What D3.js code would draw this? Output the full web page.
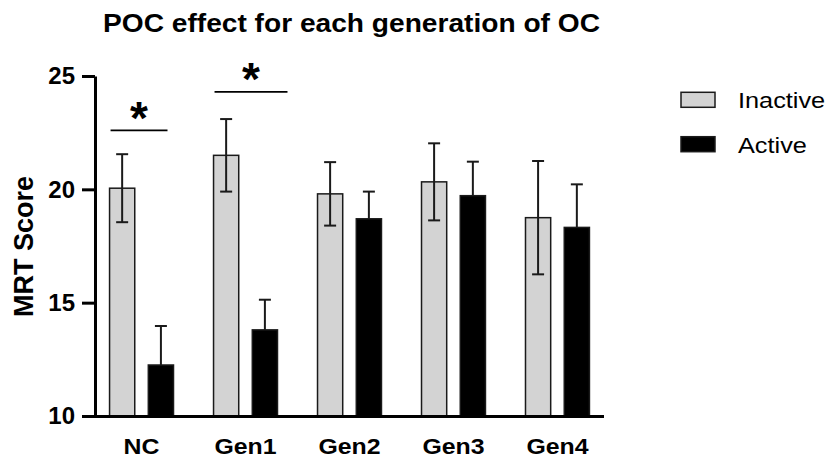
<!DOCTYPE html>
<html>
<head>
<meta charset="utf-8">
<script src="https://cdn.jsdelivr.net/npm/d3@7"></script>
<style>
  body { margin: 0; background: #fff; }
  text { font-family: "Liberation Sans", Arial, sans-serif; fill: #000; }
</style>
</head>
<body>
<div id="chart"></div>
<script>
const categories = ["NC", "Gen1", "Gen2", "Gen3", "Gen4"];
const seriesNames = ["Inactive", "Active"];
const inactiveMean = [20.05, 21.5, 19.8, 20.33, 18.75];
const inactiveErr = [1.5, 1.6, 1.4, 1.7, 2.5];
const activeMean = [12.25, 13.8, 18.7, 19.72, 18.32];
const activeErr = [1.72, 1.33, 1.2, 1.5, 1.9];
const yTicks = [10, 15, 20, 25];
const sigGroups = ["NC", "Gen1"];
const sigLevels = [22.6, 24.3];

const width = 832, height = 459;
const fills = { Inactive: "#d3d3d3", Active: "#000" };

// stretch text horizontally a bit, the source picture is wider than tall
function stretch(sel, f) {
    sel.each(function () {
        const w = this.getComputedTextLength();
        d3.select(this).attr("textLength", w * f).attr("lengthAdjust", "spacingAndGlyphs");
    });
}

const svg = d3.select("#chart").append("svg")
    .attr("width", width)
    .attr("height", height);

const x = d3.scaleBand()
    .domain(categories)
    .range([95, 604])
    .paddingInner(0.385)
    .paddingOuter(0.14);

const xs = d3.scaleBand()
    .domain(seriesNames)
    .range([0, x.bandwidth()])
    .paddingInner(0.35);

const y = d3.scaleLinear()
    .domain([10, 25])
    .range([416, 76]);

const rows = [];
categories.forEach((c, i) => {
    rows.push({ cat: c, series: "Inactive", mean: inactiveMean[i], err: inactiveErr[i] });
    rows.push({ cat: c, series: "Active", mean: activeMean[i], err: activeErr[i] });
});

// bars
svg.append("g").selectAll("rect")
    .data(rows)
    .enter()
    .append("rect")
    .attr("x", d => x(d.cat) + xs(d.series))
    .attr("width", xs.bandwidth())
    .attr("y", d => y(d.mean))
    .attr("height", d => y(10) - y(d.mean))
    .attr("fill", d => fills[d.series])
    .attr("stroke", "#1a1a1a")
    .attr("stroke-width", 1.5);

// error bars
const eb = svg.append("g").attr("stroke", "#1a1a1a").attr("stroke-width", 2);
rows.forEach(d => {
    const cx = x(d.cat) + xs(d.series) + xs.bandwidth() / 2;
    const lo = d.series === "Active" ? d.mean : d.mean - d.err;
    eb.append("line").attr("x1", cx).attr("x2", cx).attr("y1", y(d.mean + d.err)).attr("y2", y(lo));
    eb.append("line").attr("x1", cx - 6).attr("x2", cx + 6).attr("y1", y(d.mean + d.err)).attr("y2", y(d.mean + d.err));
    if (d.series === "Inactive") {
        eb.append("line").attr("x1", cx - 6).attr("x2", cx + 6).attr("y1", y(lo)).attr("y2", y(lo));
    }
});

// axes
const yAxis = svg.append("g")
    .attr("transform", "translate(95,0)")
    .call(d3.axisLeft(y).tickValues(yTicks).tickSize(13).tickSizeOuter(0).tickPadding(7));
yAxis.selectAll("path, line").attr("stroke", "#000").attr("stroke-width", 3);
yAxis.selectAll("text")
    .style("font-size", "24px")
    .style("font-weight", "bold")
    .attr("fill", "#000");

const xAxis = svg.append("g")
    .attr("transform", "translate(0,416)")
    .call(d3.axisBottom(x).tickSize(0).tickSizeOuter(0).tickPadding(22));
xAxis.select("path").attr("stroke", "#000").attr("stroke-width", 3).attr("d", "M93.5,0.5H604");
xAxis.selectAll("text")
    .style("font-size", "22px")
    .style("font-weight", "bold")
    .attr("fill", "#000")
    .call(stretch, 1.13);

// significance brackets
const spanFix = { NC: [1, -6], Gen1: [1, 10] };
sigGroups.forEach((g, i) => {
    const x1 = x(g) + spanFix[g][0];
    const x2 = x(g) + x.bandwidth() + spanFix[g][1];
    svg.append("line")
        .attr("x1", x1).attr("x2", x2)
        .attr("y1", y(sigLevels[i])).attr("y2", y(sigLevels[i]))
        .attr("stroke", "#000").attr("stroke-width", 1.6);
    svg.append("text")
        .attr("x", (x1 + x2) / 2)
        .attr("y", y(sigLevels[i] + 1) + 26)
        .attr("text-anchor", "middle")
        .style("font-size", "46px")
        .style("font-weight", "bold")
        .text("*");
});

// title
svg.append("text")
    .attr("x", 351.5)
    .attr("y", 31.5)
    .attr("text-anchor", "middle")
    .style("font-size", "25px")
    .style("font-weight", "bold")
    .attr("textLength", 497)
    .attr("lengthAdjust", "spacingAndGlyphs")
    .text("POC effect for each generation of OC");

// y title
svg.append("text")
    .attr("transform", "translate(32.5,246.5) rotate(-90)")
    .attr("text-anchor", "middle")
    .style("font-size", "27px")
    .style("font-weight", "bold")
    .text("MRT Score");

// legend
const legend = svg.append("g");
seriesNames.forEach((s, i) => {
    const top = 92.3 + i * 44.4;
    legend.append("rect")
        .attr("x", 681).attr("y", top)
        .attr("width", 34).attr("height", 15)
        .attr("fill", fills[s])
        .attr("stroke", "#1a1a1a").attr("stroke-width", 1.5);
    legend.append("text")
        .attr("x", 738).attr("y", top + 16)
        .style("font-size", "22px")
        .text(s)
        .call(stretch, 1.15);
});
</script>
</body>
</html>
